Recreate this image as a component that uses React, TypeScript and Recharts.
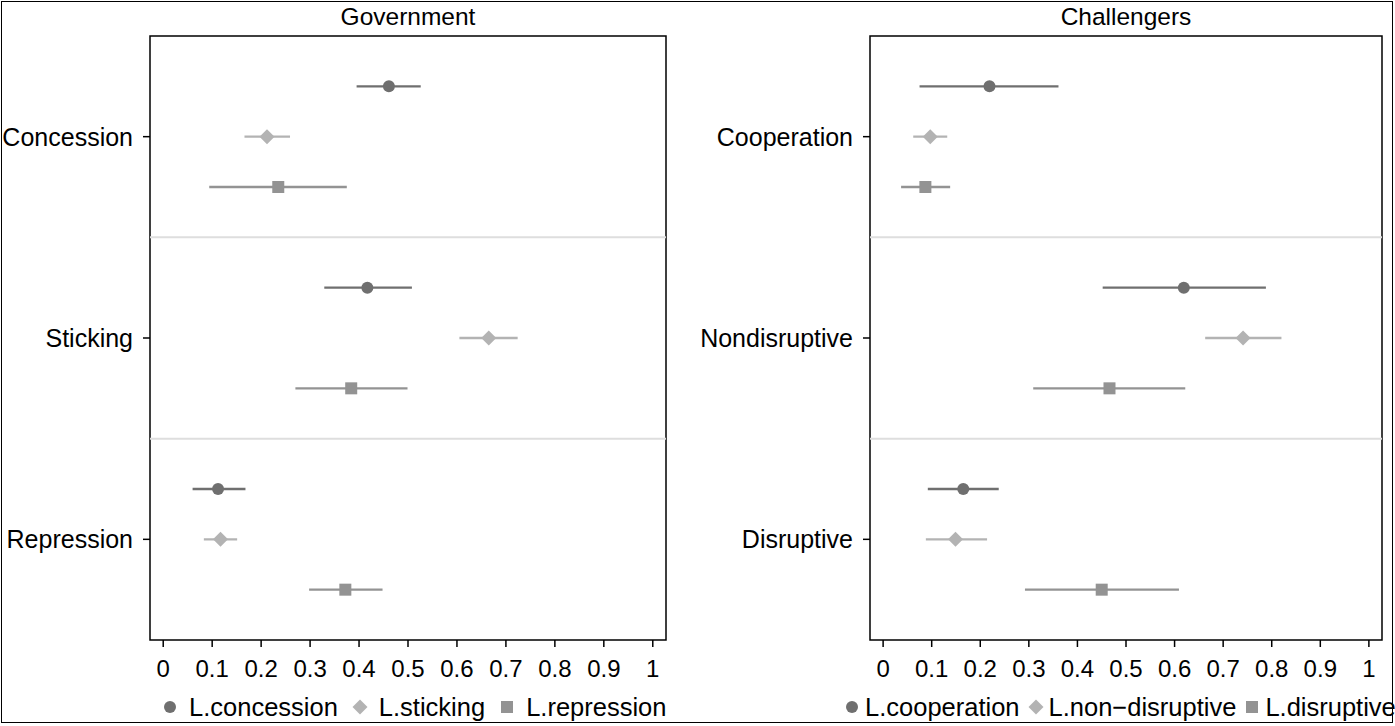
import { ScatterChart, Scatter, XAxis, YAxis, ErrorBar, ReferenceLine, ReferenceArea, Legend } from "recharts";

const FONT = '"Liberation Sans", Arial, Helvetica, sans-serif';

// x-axis
const X_MIN = -0.027;
const X_MAX = 1.027;
const xTicks = [0, 0.1, 0.2, 0.3, 0.4, 0.5, 0.6, 0.7, 0.8, 0.9, 1];

// Government panel: rows = outcome, series = lagged action
const govCategories = ["Concession", "Sticking", "Repression"];
const govConcession = [0.461, 0.417, 0.112];
const govConcessionLo = [0.395, 0.329, 0.06];
const govConcessionHi = [0.526, 0.508, 0.168];
const govSticking = [0.212, 0.665, 0.117];
const govStickingLo = [0.166, 0.605, 0.083];
const govStickingHi = [0.259, 0.724, 0.151];
const govRepression = [0.235, 0.384, 0.372];
const govRepressionLo = [0.094, 0.27, 0.298];
const govRepressionHi = [0.375, 0.499, 0.448];

// Challengers panel
const chCategories = ["Cooperation", "Nondisruptive", "Disruptive"];
const chCooperation = [0.219, 0.619, 0.165];
const chCooperationLo = [0.075, 0.452, 0.092];
const chCooperationHi = [0.361, 0.788, 0.238];
const chNonDisruptive = [0.097, 0.741, 0.149];
const chNonDisruptiveLo = [0.062, 0.663, 0.088];
const chNonDisruptiveHi = [0.132, 0.82, 0.214];
const chDisruptive = [0.087, 0.466, 0.45];
const chDisruptiveLo = [0.037, 0.309, 0.292];
const chDisruptiveHi = [0.138, 0.622, 0.609];

const DARK = "#6f6f6f";
const LIGHT = "#b3b3b3";
const MID = "#939393";

type Marker = "circle" | "diamond" | "square";

type Series = {
  name: string;
  values: number[];
  lo: number[];
  hi: number[];
  color: string;
  marker: Marker;
};

const govSeries: Series[] = [
  { name: "L.concession", values: govConcession, lo: govConcessionLo, hi: govConcessionHi, color: DARK, marker: "circle" },
  { name: "L.sticking", values: govSticking, lo: govStickingLo, hi: govStickingHi, color: LIGHT, marker: "diamond" },
  { name: "L.repression", values: govRepression, lo: govRepressionLo, hi: govRepressionHi, color: MID, marker: "square" },
];

const chSeries: Series[] = [
  { name: "L.cooperation", values: chCooperation, lo: chCooperationLo, hi: chCooperationHi, color: DARK, marker: "circle" },
  { name: "L.non\u2212disruptive", values: chNonDisruptive, lo: chNonDisruptiveLo, hi: chNonDisruptiveHi, color: LIGHT, marker: "diamond" },
  { name: "L.disruptive", values: chDisruptive, lo: chDisruptiveLo, hi: chDisruptiveHi, color: MID, marker: "square" },
];

// each category block takes 4 slots on the y scale, series sit at 1,2,3 inside it
function toRows(s: Series, j: number) {
  return s.values.map((v, i) => ({
    x: v,
    y: i * 4 + 1 + j,
    err: [v - s.lo[i], s.hi[i] - v],
  }));
}

function drawMarker(marker: Marker, cx: number, cy: number, color: string) {
  if (marker === "circle") return <circle cx={cx} cy={cy} r={6} fill={color} />;
  if (marker === "diamond")
    return <polygon points={`${cx},${cy - 7.5} ${cx + 7.5},${cy} ${cx},${cy + 7.5} ${cx - 7.5},${cy}`} fill={color} />;
  return <rect x={cx - 6} y={cy - 6} width={12} height={12} fill={color} />;
}

type PanelProps = {
  title: string;
  categories: string[];
  series: Series[];
  left: number;
  width: number;
  yAxisWidth: number;
  rightMargin: number;
  legendLeft: number;
  iconGap: number;
  itemGap: number;
};

function Panel({ title, categories, series, left, width, yAxisWidth, rightMargin, legendLeft, iconGap, itemGap }: PanelProps) {
  const plotWidth = width - yAxisWidth - rightMargin;

  const legendContent = () => (
    <div style={{ display: "flex", alignItems: "center", fontFamily: FONT, fontSize: 25.5, lineHeight: "28px", color: "#000", whiteSpace: "nowrap" }}>
      {series.map((s) => (
        <span key={s.name} style={{ display: "flex", alignItems: "center", marginRight: itemGap }}>
          <svg width={16} height={16} style={{ display: "block" }}>
            {drawMarker(s.marker, 8, 8, s.color)}
          </svg>
          <span style={{ marginLeft: iconGap }}>{s.name}</span>
        </span>
      ))}
    </div>
  );

  return (
    <div style={{ position: "absolute", left, top: 0, width, height: 726 }}>
      <div
        style={{
          position: "absolute",
          left: yAxisWidth,
          width: plotWidth,
          top: 3,
          textAlign: "center",
          fontFamily: FONT,
          fontSize: 24.5,
          lineHeight: "28px",
          color: "#000",
        }}
      >
        {title}
      </div>
      <ScatterChart width={width} height={726} margin={{ top: 36, right: rightMargin, bottom: 0, left: 0 }}>
        <XAxis
          type="number"
          dataKey="x"
          domain={[X_MIN, X_MAX]}
          allowDataOverflow
          ticks={xTicks}
          interval={0}
          height={86}
          tickSize={7}
          tickMargin={13}
          axisLine={false}
          tickLine={{ stroke: "#000", strokeWidth: 1.5 }}
          tick={{ fontSize: 24, fill: "#000", fontFamily: FONT }}
          tickFormatter={(v: number) => (v === 0 || v === 1 ? String(v) : v.toFixed(1))}
        />
        <YAxis
          type="number"
          dataKey="y"
          domain={[0, 12]}
          reversed
          allowDataOverflow
          ticks={[2, 6, 10]}
          interval={0}
          width={yAxisWidth}
          tickSize={7}
          tickMargin={10}
          axisLine={false}
          tickLine={{ stroke: "#000", strokeWidth: 1.5 }}
          tick={{ fontSize: 25, fill: "#000", fontFamily: FONT }}
          tickFormatter={(v: number) => categories[(v - 2) / 4] ?? ""}
        />
        <ReferenceLine y={4} stroke="#dedede" strokeWidth={2} />
        <ReferenceLine y={8} stroke="#dedede" strokeWidth={2} />
        <ReferenceArea x1={X_MIN} x2={X_MAX} y1={0} y2={12} fill="none" stroke="#000" strokeWidth={1.5} ifOverflow="visible" />
        {series.map((s, j) => (
          <Scatter
            key={s.name}
            name={s.name}
            data={toRows(s, j)}
            fill={s.color}
            isAnimationActive={false}
            shape={(p: any) => drawMarker(s.marker, p.cx, p.cy, s.color)}
          >
            <ErrorBar dataKey="err" direction="x" width={0} stroke={s.color} strokeWidth={2.4} isAnimationActive={false} />
          </Scatter>
        ))}
        <Legend
          layout="horizontal"
          verticalAlign="middle"
          align="center"
          content={legendContent}
          wrapperStyle={{ top: 693, left: legendLeft, width: "auto" }}
        />
      </ScatterChart>
    </div>
  );
}

export default function App() {
  return (
    <div style={{ position: "absolute", left: 0, top: 0, width: 1395, height: 726, background: "#fff", overflow: "hidden" }}>
      <div
        style={{
          position: "absolute",
          left: 1,
          top: 1,
          width: 1392,
          height: 722,
          border: "1.5px solid #000",
          boxSizing: "border-box",
        }}
      />
      <Panel
        title="Government"
        categories={govCategories}
        series={govSeries}
        left={0}
        width={700}
        yAxisWidth={150}
        rightMargin={34}
        legendLeft={162}
        iconGap={11}
        itemGap={14}
      />
      <Panel
        title="Challengers"
        categories={chCategories}
        series={chSeries}
        left={700}
        width={695}
        yAxisWidth={170}
        rightMargin={13}
        legendLeft={144}
        iconGap={5}
        itemGap={8}
      />
    </div>
  );
}
